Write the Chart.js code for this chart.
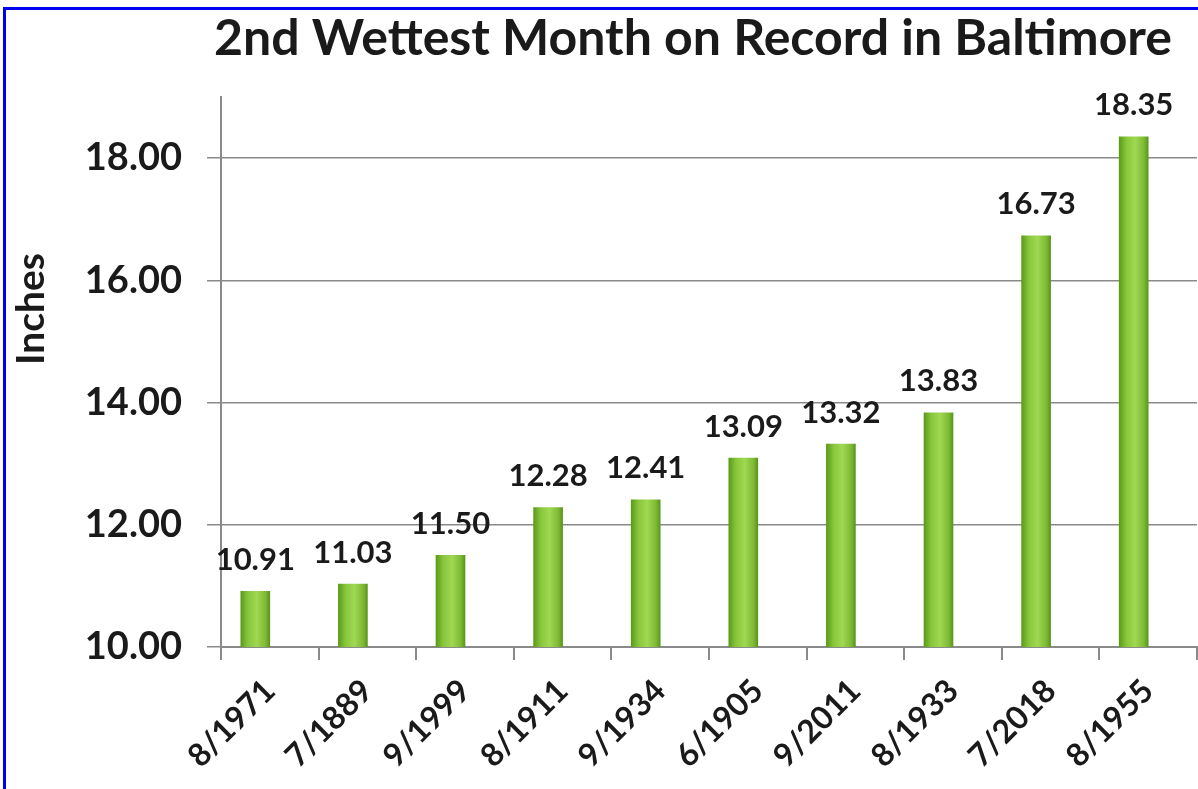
<!DOCTYPE html>
<html>
<head>
<meta charset="utf-8">
<title>2nd Wettest Month on Record in Baltimore</title>
<script src="https://cdn.jsdelivr.net/npm/chart.js@4.4.0/dist/chart.umd.min.js"></script>
<style>
  html, body { margin: 0; padding: 0; background: #fff; }
  #wrap { position: relative; width: 1198px; height: 789px; overflow: hidden; }
  #wrap canvas { position: absolute; left: 0; top: 0; }
  /* blue frame, only left and top edges show in the picture */
  #frame { position: absolute; left: 3px; top: 7px; right: -10px; bottom: -10px;
           border-left: 3px solid #0000f0; border-top: 3px solid #0000f0; pointer-events: none; }
</style>
</head>
<body>
<div id="wrap">
  <canvas id="chart" width="1198" height="789"></canvas>
  <div id="frame"></div>
</div>
<script>
/* ─── Data ─── */
const MONTHS = ['8/1971','7/1889','9/1999','8/1911','9/1934','6/1905','9/2011','8/1933','7/2018','8/1955'];
const RAIN   = [10.91, 11.03, 11.50, 12.28, 12.41, 13.09, 13.32, 13.83, 16.73, 18.35];
const SPACER = MONTHS.map(() => null);   // empty slot: pushes the bars a bit left of centre, as in the original
const Y_MIN = 10, Y_MAX = 19, Y_STEP = 2;

const TITLE  = '2nd Wettest Month on Record in Baltimore';
const Y_NAME = 'Inches';

const FONT = "Lato, 'Open Sans', 'Liberation Sans', sans-serif";
const INK  = '#1a1a1a';
const GRID = '#8a8a8a';
const BAR_W = 29;

/* horizontal shading so the bars look like rounded tubes */
function tubeFill(ctx, cx) {
  const g = ctx.createLinearGradient(cx - BAR_W / 2, 0, cx + BAR_W / 2, 0);
  g.addColorStop(0,    '#5c9a1a');
  g.addColorStop(0.25, '#88c73c');
  g.addColorStop(0.55, '#a0d852');
  g.addColorStop(0.85, '#7eba35');
  g.addColorStop(1,    '#5a961b');
  return g;
}

/* value labels above bars + chart / axis titles */
const decor = {
  id: 'decor',
  beforeDatasetsDraw(chart) {
    // bar positions are known now: give every bar its own gradient
    chart.getDatasetMeta(0).data.forEach(bar => {
      bar.options = Object.assign({}, bar.options, { backgroundColor: tubeFill(chart.ctx, bar.x) });
    });
  },
  afterDatasetsDraw(chart) {
    const { ctx } = chart;
    const meta = chart.getDatasetMeta(0);
    ctx.save();
    ctx.fillStyle = INK;
    ctx.font = `bold 31px ${FONT}`;
    ctx.textAlign = 'center';
    ctx.textBaseline = 'bottom';
    meta.data.forEach((bar, i) => {
      ctx.fillText(RAIN[i].toFixed(2), bar.x, bar.y - 16);
    });
    ctx.restore();
  },
  afterDraw(chart) {
    const { ctx } = chart;
    ctx.save();
    ctx.fillStyle = INK;
    ctx.textAlign = 'center';
    ctx.textBaseline = 'middle';
    ctx.font = `bold 50px ${FONT}`;
    ctx.fillText(TITLE, 693, 39);
    ctx.translate(31, 309);
    ctx.rotate(-Math.PI / 2);
    ctx.font = `bold 39px ${FONT}`;
    ctx.fillText(Y_NAME, 0, 0);
    ctx.restore();
  }
};

new Chart(document.getElementById('chart'), {
  type: 'bar',
  data: {
    labels: MONTHS,
    datasets: [
      { data: RAIN,   backgroundColor: '#8cc63f', borderWidth: 0, barThickness: BAR_W },
      { data: SPACER, backgroundColor: 'rgba(0,0,0,0)', borderWidth: 0, barThickness: BAR_W }
    ]
  },
  options: {
    responsive: false,
    animation: false,
    layout: { padding: { top: 97, left: 7, right: 1, bottom: 0 } },
    plugins: { legend: { display: false }, tooltip: { enabled: false }, title: { display: false } },
    scales: {
      x: {
        afterFit: s => { s.height = 142; },
        grid: { offset: true, drawOnChartArea: false, drawTicks: true, tickLength: 13, color: GRID, lineWidth: 2 },
        border: { color: GRID, width: 2 },
        ticks: { color: INK, font: { family: FONT, size: 32, weight: 'bold' }, minRotation: 45, maxRotation: 45, padding: 12, autoSkip: false }
      },
      y: {
        min: Y_MIN, max: Y_MAX,
        afterFit: s => { s.width = 214; },
        grid: { color: GRID, lineWidth: 1.5, tickLength: 14 },
        border: { color: GRID, width: 2 },
        ticks: {
          stepSize: Y_STEP, includeBounds: false, padding: 25, color: INK,
          font: { family: FONT, size: 38, weight: 'bold' },
          callback: v => v.toFixed(2)
        }
      }
    }
  },
  plugins: [decor]
});
</script>
</body>
</html>
